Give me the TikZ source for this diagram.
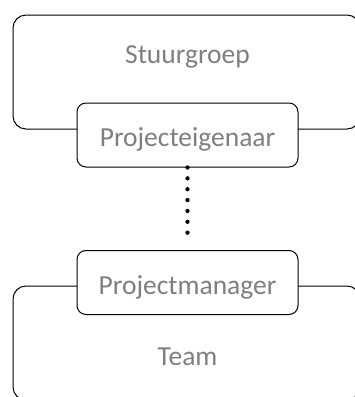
\documentclass[tikz,border=0pt]{standalone}
\usepackage{fontspec}
\setmainfont{Carlito}
\usetikzlibrary{positioning}

\definecolor{labelgray}{HTML}{7F7F7F}

\begin{document}
\begin{tikzpicture}[x = 1pt, y = -1pt,
                    groupbox/.style  = {draw, line width=1pt, rounded corners=13pt,
                                        minimum width=347pt, minimum height=114pt, inner sep=0pt},
                    rolebox/.style   = {draw, line width=1pt, rounded corners=9pt, fill=white,
                                        minimum width=221pt, minimum height=64pt, inner sep=0pt,
                                        text height=29pt, text depth=6pt,
                                        text=labelgray, font=\fontsize{27.5}{32}\selectfont},
                    grouplabel/.style = {anchor=base, inner sep=0pt,
                                        text=labelgray, font=\fontsize{27.5}{32}\selectfont},
                    dotline/.style   = {line width=4.3pt, line cap=round,
                                        dash pattern=on 0pt off 10.86pt}]

    \def\mid{187.5}

    \useasboundingbox (0,0) rectangle (355,397);
    \clip (0,0) rectangle (355,397);

    % groups
    \node[groupbox] (stuurgroep) at (186.5,72) {};
    \node[groupbox] (team) at (186.5,343) {};

    \node[grouplabel] (stuurgroeplabel) at (\mid,63) {Stuurgroep};
    \node[grouplabel] (teamlabel) at (\mid,365) {Team};

    % roles
    \node[rolebox] (eigenaar) at (\mid,135) {Projecteigenaar};
    \node[rolebox] (manager) at (\mid,282.5) {Projectmanager};

    \draw[dotline, shorten >=7pt] (eigenaar.south) -- (manager.north);

\end{tikzpicture}
\end{document}
